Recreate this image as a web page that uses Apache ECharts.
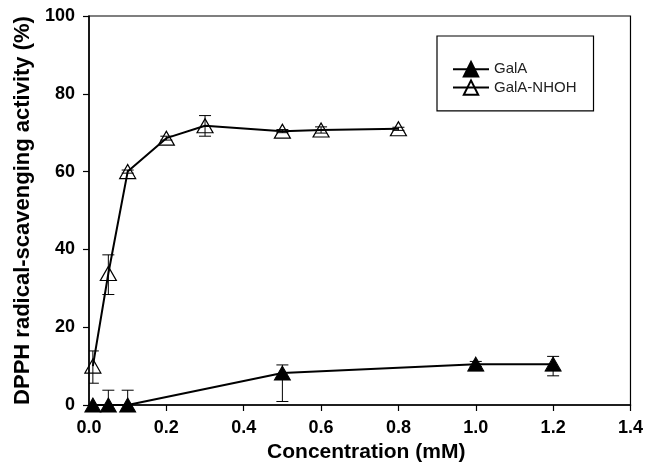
<!DOCTYPE html>
<html>
<head>
<meta charset="utf-8">
<script src="https://cdn.jsdelivr.net/npm/echarts@6/dist/echarts.min.js"></script>
<style>
  html, body { margin: 0; padding: 0; background: #fff; }
  #chart { width: 646px; height: 468px; }
</style>
</head>
<body>
<div id="chart"></div>
<script>
// GalA
const galaX = [0.01, 0.05, 0.1, 0.5, 1.0, 1.2]
const galaY = [0, 0, 0, 8.2, 10.5, 10.5]
const galaLow = [0, -3.8, -3.8, 0.9, 9.9, 7.5]
const galaHigh = [0, 3.8, 3.8, 10.3, 11.2, 12.5]

// GalA-NHOH
const nhohX = [0.01, 0.05, 0.1, 0.2, 0.3, 0.5, 0.6, 0.8]
const nhohY = [10, 33.8, 60, 68.6, 71.8, 70.4, 70.7, 71.0]
const nhohLow = [5.6, 28.4, 59.6, 68.1, 69.1, 70.0, 69.9, 70.6]
const nhohHigh = [13.9, 38.6, 60.4, 69.1, 74.4, 70.8, 71.5, 71.4]

const xTicks = [0, 0.2, 0.4, 0.6, 0.8, 1.0, 1.2, 1.4]
const yTicks = [0, 20, 40, 60, 80, 100]

const font = 'Liberation Sans, Arial, Helvetica, sans-serif'

const pairs = (xs, ys) => xs.map((x, i) => [x, ys[i]])
const errData = (xs, lo, hi) => xs.map((x, i) => [x, lo[i], hi[i]])

function errorBars(params, api) {
  const x = api.value(0)
  const lo = api.coord([x, api.value(1)])
  const hi = api.coord([x, api.value(2)])
  const w = 6
  const style = { stroke: '#000', lineWidth: 1 }
  return {
    type: 'group',
    children: [
      { type: 'line', shape: { x1: lo[0], y1: lo[1], x2: hi[0], y2: hi[1] }, style },
      { type: 'line', shape: { x1: lo[0] - w, y1: lo[1], x2: lo[0] + w, y2: lo[1] }, style },
      { type: 'line', shape: { x1: hi[0] - w, y1: hi[1], x2: hi[0] + w, y2: hi[1] }, style }
    ]
  }
}

const chart = echarts.init(document.getElementById('chart'))
chart.setOption({
  backgroundColor: '#fff',
  animation: false,
  textStyle: { fontFamily: font },
  grid: { left: 89, right: 14, top: 16, bottom: 61, show: true, borderColor: '#000', borderWidth: 1.2 },
  legend: {
    orient: 'vertical',
    left: 437,
    top: 36,
    padding: [25, 17, 15, 15],
    itemGap: 2,
    itemWidth: 36,
    itemHeight: 18,
    borderColor: '#000',
    borderWidth: 1.2,
    backgroundColor: '#fff',
    textStyle: { fontFamily: font, fontSize: 15, color: '#222' },
    data: ['GalA', 'GalA-NHOH']
  },
  xAxis: {
    type: 'value',
    min: xTicks[0],
    max: xTicks[xTicks.length - 1],
    interval: 0.2,
    name: 'Concentration (mM)',
    nameLocation: 'middle',
    nameGap: 37,
    nameTextStyle: { fontFamily: font, fontSize: 21, fontWeight: 'bold', color: '#000', padding: [0, 0, 0, 13] },
    axisLine: { onZero: false, lineStyle: { color: '#000', width: 1.5 } },
    axisTick: { show: true, inside: false, length: 6, lineStyle: { color: '#000', width: 1.2 } },
    axisLabel: { margin: 14, fontSize: 18, fontWeight: 'bold', color: '#000', formatter: v => v.toFixed(1) },
    splitLine: { show: false }
  },
  yAxis: {
    type: 'value',
    min: yTicks[0],
    max: yTicks[yTicks.length - 1],
    interval: 20,
    name: 'DPPH radical-scavenging activity (%)',
    nameLocation: 'middle',
    nameGap: 52,
    nameTextStyle: { fontFamily: font, fontSize: 22, fontWeight: 'bold', color: '#000' },
    axisLine: { show: true, onZero: false, lineStyle: { color: '#000', width: 1.5 } },
    axisTick: { show: true, inside: false, length: 6, lineStyle: { color: '#000', width: 1.2 } },
    axisLabel: { margin: 14, fontSize: 18, fontWeight: 'bold', color: '#000' },
    splitLine: { show: false }
  },
  series: [
    {
      type: 'custom',
      name: 'GalA err',
      renderItem: errorBars,
      clip: true,
      z: 1,
      data: errData(galaX, galaLow, galaHigh)
    },
    {
      type: 'custom',
      name: 'GalA-NHOH err',
      renderItem: errorBars,
      clip: true,
      z: 1,
      data: errData(nhohX, nhohLow, nhohHigh)
    },
    {
      name: 'GalA',
      type: 'line',
      data: pairs(galaX, galaY),
      symbol: 'triangle',
      symbolSize: [16, 14],
      clip: false,
      z: 3,
      lineStyle: { color: '#000', width: 2 },
      itemStyle: { color: '#000', borderColor: '#000', borderWidth: 1 }
    },
    {
      name: 'GalA-NHOH',
      type: 'line',
      data: pairs(nhohX, nhohY),
      symbol: 'triangle',
      symbolSize: [16, 14],
      clip: false,
      z: 3,
      lineStyle: { color: '#000', width: 2 },
      itemStyle: { color: 'rgba(255,255,255,0)', borderColor: '#000', borderWidth: 1.2 }
    }
  ]
})
</script>
</body>
</html>
